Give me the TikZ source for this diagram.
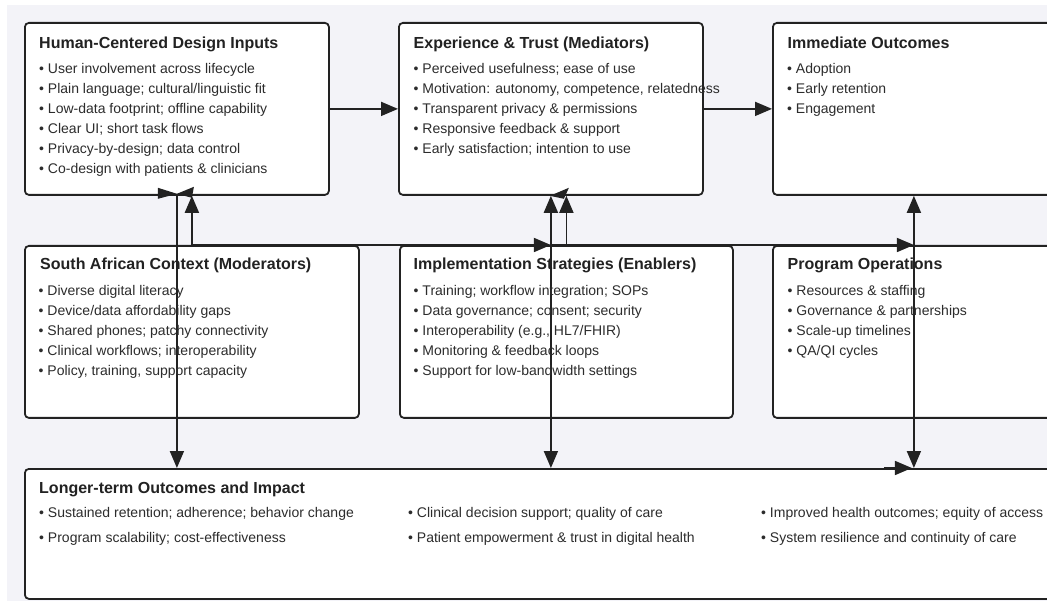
\documentclass[tikz,border=0pt]{standalone}
\usepackage{fontspec}
\setmainfont{Liberation Sans}
\usetikzlibrary{arrows.meta,calc}
\definecolor{bg}{HTML}{F3F3F8}
\definecolor{ink}{HTML}{222222}
\definecolor{txt}{HTML}{2C2C2C}
\begin{document}
\begin{tikzpicture}[x=1pt,y=-1pt,
  box/.style={draw=ink, line width=1.8pt, fill=white, rounded corners=4pt,
    inner sep=0pt, anchor=north west},
  title/.style={anchor=base west, inner sep=0pt, text=ink,
    font=\fontsize{16}{18}\selectfont\bfseries},
  item/.style={anchor=base west, inner sep=0pt, text=txt,
    font=\fontsize{14}{16}\selectfont},
  conn/.style={draw=ink, line width=1.8pt, -{Triangle[length=17pt,width=14pt]}},
  both/.style={draw=ink, line width=1.8pt,
    {Triangle[length=17pt,width=14pt]}-{Triangle[length=17pt,width=14pt]}}]
\useasboundingbox (0,0) rectangle (1047,601);
\clip (0,0) rectangle (1047,601);
\fill[bg] (7,5) rectangle (1047,601);

% ---- boxes ----
\node[box, minimum width=304pt, minimum height=172pt] (hcd)  at (24,22)  {};
\node[box, minimum width=304pt, minimum height=172pt] (exp)  at (398,22) {};
\node[box, minimum width=282pt, minimum height=172pt] (imm)  at (772,22) {};
\node[box, minimum width=334pt, minimum height=172pt] (ctx)  at (24,245) {};
\node[box, minimum width=333pt, minimum height=172pt] (impl) at (399,245) {};
\node[box, minimum width=282pt, minimum height=172pt] (ops)  at (772,245) {};
\node[box, minimum width=1060pt, minimum height=130pt] (lto) at (24,468) {};

% ---- connectors ----
\draw[conn] (hcd) -- (exp);
\draw[conn] (exp) -- (imm);
\draw[conn] (hcd.south) -- (hcd.south |- lto.north);
\draw[both] (exp.south) -- (exp.south |- lto.north);
\draw[both] (imm.south) -- (imm.south |- lto.north);
\draw[conn] (ctx.north) -- (ctx.north |- hcd.south);
\draw[conn] (impl.north) -- (impl.north |- exp.south);
\draw[conn] (ctx.north) -- (exp.south |- ctx.north);
\draw[conn] (exp.south |- ctx.north) -- (imm.south |- ctx.north);
\draw[conn] ($(imm.south |- lto.north)+(-30,0)$) -- ($(imm.south |- lto.north)+(-2,0)$);
% heads where several routes meet
\fill[ink] ($(hcd.south)+(-19,-8)$) -- ($(hcd.south)+(-19,3)$) -- ($(hcd.south)+(0,-2)$) -- cycle;
\fill[ink] ($(hcd.south)+(17,-9)$) -- ($(hcd.south)+(15,2)$) -- ($(hcd.south)+(0,-2)$) -- cycle;
\fill[ink] ($(exp.south)+(-1,0)$) -- ($(exp.south)+(18,-8)$) -- ($(exp.south)+(13,3)$) -- cycle;

% ---- texts ----
\node[title] (hcd-t) at (39,48.5) {Human-Centered Design Inputs};
\foreach \t [count=\i from 0] in {{User involvement across lifecycle},
  {Plain language; cultural/linguistic fit},
  {Low-data footprint; offline capability},
  {Clear UI; short task flows},
  {Privacy-by-design; data control},
  {Co-design with patients \& clinicians}}
  \node[item] (hcd-\i) at (39,73.5+20*\i) {• \t};

\node[title] (exp-t) at (413.5,48.5) {Experience \& Trust (Mediators)};
\foreach \t [count=\i from 0] in {{Perceived usefulness; ease of use},
  {Motivation: autonomy, competence, relatedness},
  {Transparent privacy \& permissions},
  {Responsive feedback \& support},
  {Early satisfaction; intention to use}}
  \node[item] (exp-\i) at (413.5,73.5+20*\i) {• \t};

\node[title] (imm-t) at (787.5,48.5) {Immediate Outcomes};
\foreach \t [count=\i from 0] in {{Adoption},{Early retention},{Engagement}}
  \node[item] (imm-\i) at (787,73.5+20*\i) {• \t};

\node[title] (ctx-t) at (40,270) {South African Context (Moderators)};
\foreach \t [count=\i from 0] in {{Diverse digital literacy},
  {Device/data affordability gaps},
  {Shared phones; patchy connectivity},
  {Clinical workflows; interoperability},
  {Policy, training, support capacity}}
  \node[item] (ctx-\i) at (38.5,295.5+20*\i) {• \t};

\node[title] (impl-t) at (413.5,270) {Implementation Strategies (Enablers)};
\foreach \t [count=\i from 0] in {{Training; workflow integration; SOPs},
  {Data governance; consent; security},
  {Interoperability (e.g., HL7/FHIR)},
  {Monitoring \& feedback loops},
  {Support for low-bandwidth settings}}
  \node[item] (impl-\i) at (413.5,295.5+20*\i) {• \t};

\node[title] (ops-t) at (787.5,270) {Program Operations};
\foreach \t [count=\i from 0] in {{Resources \& staffing},
  {Governance \& partnerships},
  {Scale-up timelines},
  {QA/QI cycles}}
  \node[item] (ops-\i) at (787.5,295.5+20*\i) {• \t};

\node[title] (lto-t) at (39,493.5) {Longer-term Outcomes and Impact};
\node[item] (lto-1) at (39,517.5)  {• Sustained retention; adherence; behavior change};
\node[item] (lto-2) at (39,542.5)  {• Program scalability; cost-effectiveness};
\node[item] (lto-3) at (408,517.5) {• Clinical decision support; quality of care};
\node[item] (lto-4) at (408,542.5) {• Patient empowerment \& trust in digital health};
\node[item] (lto-5) at (761,517.5) {• Improved health outcomes; equity of access};
\node[item] (lto-6) at (761,542.5) {• System resilience and continuity of care};
\end{tikzpicture}
\end{document}
